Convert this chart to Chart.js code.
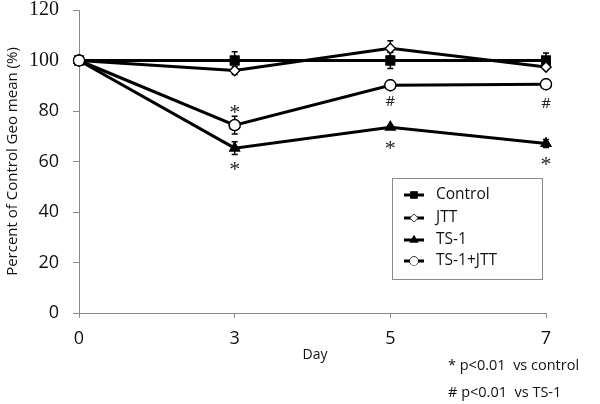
<!DOCTYPE html>
<html>
<head>
<meta charset="utf-8">
<script src="https://cdn.jsdelivr.net/npm/chart.js@4.4.1/dist/chart.umd.min.js"></script>
<style>
  html, body { margin: 0; padding: 0; background: #fff; }
  #wrap { width: 600px; height: 404px; }
</style>
</head>
<body>
<div id="wrap"><canvas id="chart" width="600" height="404"></canvas></div>
<script>
const days = ['0', '3', '5', '7'];
const yTicks = [0, 20, 40, 60, 80, 100, 120];

const control = [100, 100, 100, 100];
const controlErr = [0, 3.5, 3.2, 3];
const jtt = [100, 96, 104.8, 97.4];
const jttErr = [0, 1.5, 3, 0];
const ts1 = [100, 65.3, 73.6, 67.1];
const ts1Err = [0, 2.5, 0.8, 1.6];
const tsJtt = [100, 74.4, 90.2, 90.6];
const tsJttErr = [0, 3.5, 0.5, 0.6];

// significance marks: '*' p<0.01 vs control, '#' p<0.01 vs TS-1
const ts1Marks = ['', '*', '*', '*'];
const tsJttMarks = ['', '*', '#', '#'];

const legendLabels = ['Control', 'JTT', 'TS-1', 'TS-1+JTT'];
const footnotes = ['* p<0.01  vs control', '# p<0.01  vs TS-1'];

const SANS = '"Open Sans", "DejaVu Sans", sans-serif';
const SERIF = '"Liberation Serif", "Times New Roman", serif';
const AXIS = '#8a8a8a';

const series = [
  { label: legendLabels[0], data: control, err: controlErr, style: 'rect', radius: 6, fill: '#000' },
  { label: legendLabels[1], data: jtt, err: jttErr, style: 'rectRot', radius: 5, fill: '#fff' },
  { label: legendLabels[2], data: ts1, err: ts1Err, style: 'triangle', radius: 5.5, fill: '#000' },
  { label: legendLabels[3], data: tsJtt, err: tsJttErr, style: 'circle', radius: 5.5, fill: '#fff' }
];

const extras = {
  id: 'extras',
  afterDatasetsDraw(chart) {
    const { ctx } = chart;
    const x = chart.scales.x;
    const y = chart.scales.y;
    ctx.save();
    // error bars
    ctx.strokeStyle = '#000';
    ctx.lineWidth = 1.5;
    series.forEach((s) => {
      s.data.forEach((v, i) => {
        const e = s.err[i];
        if (!e) return;
        const px = x.getPixelForValue(i);
        const top = y.getPixelForValue(v + e);
        const bot = y.getPixelForValue(v - e);
        ctx.beginPath();
        ctx.moveTo(px, top); ctx.lineTo(px, bot);
        ctx.moveTo(px - 3, top); ctx.lineTo(px + 3, top);
        ctx.moveTo(px - 3, bot); ctx.lineTo(px + 3, bot);
        ctx.stroke();
      });
    });
    // redraw the markers over the error bars
    chart.getSortedVisibleDatasetMetas().forEach((meta) => {
      meta.data.forEach((pt) => pt.draw(ctx, chart.chartArea));
    });

    // significance marks
    ctx.fillStyle = '#222';
    ctx.textAlign = 'center';
    ctx.textBaseline = 'middle';
    ctx.font = '22px ' + SERIF;
    ts1Marks.forEach((m, i) => {
      if (!m) return;
      ctx.fillText(m, x.getPixelForValue(i), y.getPixelForValue(ts1[i]) + 22);
    });
    tsJttMarks.forEach((m, i) => {
      if (!m) return;
      const py = y.getPixelForValue(tsJtt[i]);
      if (m === '*') {
        ctx.font = '22px ' + SERIF;
        ctx.fillText(m, x.getPixelForValue(i), py - 12);
      } else {
        ctx.font = '15px ' + SANS;
        ctx.fillText(m, x.getPixelForValue(i), py + 10 + 3 * i);
      }
    });
    ctx.restore();
  },
  afterDraw(chart) {
    const { ctx } = chart;
    ctx.save();
    ctx.fillStyle = '#111';
    ctx.textBaseline = 'middle';

    // y axis title
    ctx.save();
    ctx.translate(13, (chart.chartArea.top + chart.chartArea.bottom) / 2);
    ctx.rotate(-Math.PI / 2);
    ctx.textAlign = 'center';
    ctx.font = '15px ' + SANS;
    ctx.fillText('Percent of Control Geo mean (%)', 0, 0);
    ctx.restore();

    // x axis title
    ctx.textAlign = 'center';
    ctx.font = '14px ' + SANS;
    ctx.fillText('Day', 315, 355);

    // footnotes
    ctx.textAlign = 'left';
    ctx.font = '14.5px ' + SANS;
    ctx.fillText(footnotes[0], 448, 366);
    ctx.fillText(footnotes[1], 448, 393);

    // legend box
    ctx.strokeStyle = AXIS;
    ctx.lineWidth = 1;
    ctx.strokeRect(392.5, 178.5, 150, 101);
    const rowY = [195, 218, 240, 261];
    series.forEach((s, i) => {
      const ly = rowY[i];
      ctx.strokeStyle = '#000';
      ctx.lineWidth = 3;
      ctx.beginPath();
      ctx.moveTo(404, ly); ctx.lineTo(424, ly);
      ctx.stroke();
      ctx.lineWidth = 1.2;
      ctx.fillStyle = s.fill;
      Chart.helpers.drawPoint(ctx, {
        pointStyle: s.style, radius: s.radius * 0.75, borderWidth: 1.2, rotation: 0
      }, 414, ly);
      ctx.fill();
      ctx.fillStyle = '#111';
      ctx.font = '15.5px ' + SANS;
      ctx.fillText(s.label, 436, ly);
    });
    ctx.restore();
  }
};

new Chart(document.getElementById('chart'), {
  type: 'line',
  data: {
    labels: days,
    datasets: series.map((s) => ({
      label: s.label,
      data: s.data,
      borderColor: '#000',
      borderWidth: 3,
      backgroundColor: s.fill,
      pointStyle: s.style,
      pointRadius: s.radius,
      pointBackgroundColor: s.fill,
      pointBorderColor: '#000',
      pointBorderWidth: 1.3,
      tension: 0
    }))
  },
  options: {
    responsive: false,
    animation: false,
    layout: { padding: { left: 0, top: 10, right: 54, bottom: 0 } },
    plugins: { legend: { display: false }, tooltip: { enabled: false } },
    scales: {
      x: {
        type: 'category',
        offset: false,
        afterFit(scale) { scale.height = 91; scale.paddingLeft = 0; scale.paddingRight = 0; },
        grid: { drawOnChartArea: false, color: AXIS, tickLength: 5 },
        border: { color: AXIS, width: 1 },
        ticks: { color: '#111', padding: 10, font: { family: SANS, size: 18 } }
      },
      y: {
        min: 0,
        max: 120,
        afterFit(scale) { scale.width = 79; scale.paddingTop = 0; scale.paddingBottom = 0; },
        afterBuildTicks(scale) { scale.ticks = yTicks.map((v) => ({ value: v })); },
        grid: { drawOnChartArea: false, color: AXIS, tickLength: 6 },
        border: { color: AXIS, width: 1 },
        ticks: {
          color: '#111',
          padding: 14,
          font: (c) => (c.tick && c.tick.value >= 100
            ? { family: SERIF, size: 20 }
            : { family: SANS, size: 18 })
        }
      }
    }
  },
  plugins: [extras]
});
</script>
</body>
</html>
